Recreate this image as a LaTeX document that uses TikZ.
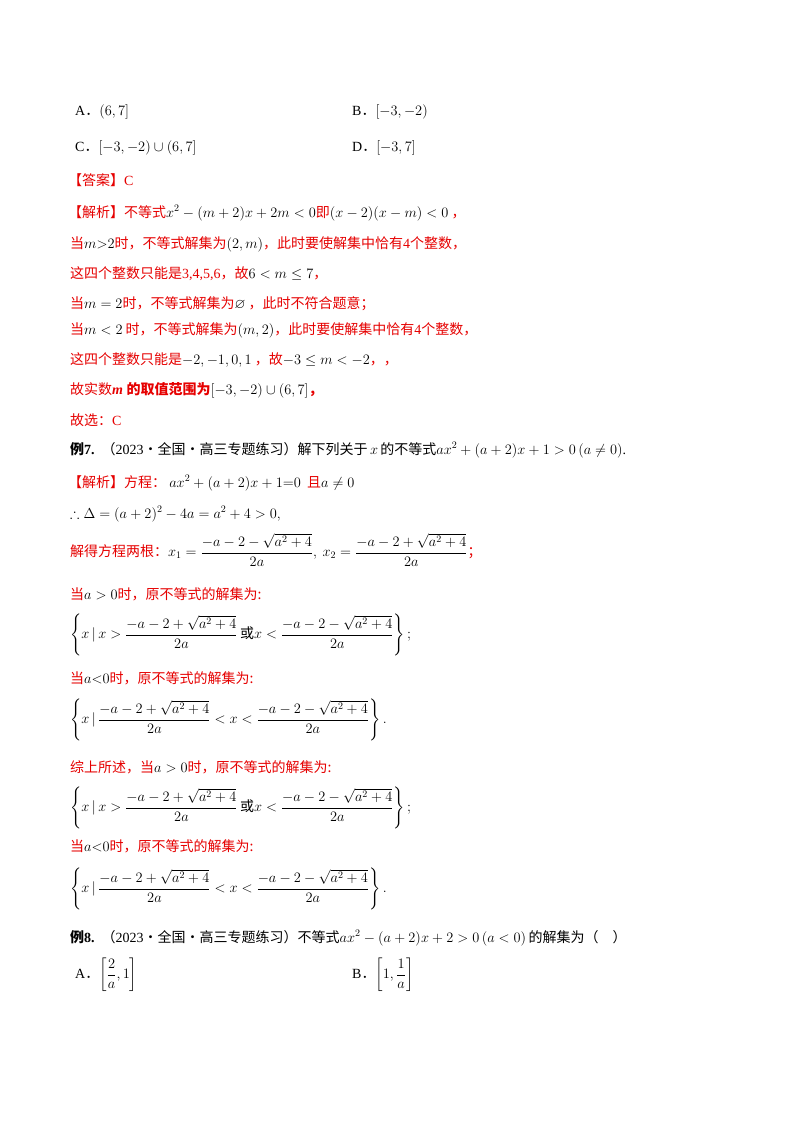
\documentclass[tikz,border=0pt]{standalone}
\usepackage{amsmath,amssymb}
\usepackage{fontspec}
\setmainfont{Liberation Serif}
\newfontfamily\cjk{Noto Sans CJK SC}
\definecolor{rd}{RGB}{230,0,0}
\begin{document}
\begin{tikzpicture}[x=1pt,y=-1pt,
  ln/.style={anchor=west,inner sep=0pt,font=\fontsize{14}{16}\selectfont},
  rl/.style={ln,text=rd}]
\useasboundingbox (0,0) rectangle (800,1132);
\fill[white] (0,0) rectangle (800,1132);
\node[ln] (a) at (75,112) {A{\cjk ．}$(6,7]$};
\node[ln] (b) at (352,112) {B{\cjk ．}$[-3,-2)$};
\node[ln] (c) at (75,148) {C{\cjk ．}$[-3,-2)\cup(6,7]$};
\node[ln] (d) at (352,148) {D{\cjk ．}$[-3,7]$};
\node[rl] (l1) at (68,180) {\cjk 【答案】\rmfamily C};
\node[rl] (l2) at (68,213) {\cjk 【解析】不等式\textcolor{black}{$x^2-(m+2)x+2m<0$}即\textcolor{black}{$(x-2)(x-m)<0$}\ ，};
\node[rl] (l3) at (70,244) {\cjk 当\textcolor{black}{$m{>}2$}时，不等式解集为\textcolor{black}{$(2,m)$}，此时要使解集中恰有\rmfamily 4\cjk 个整数，};
\node[rl] (l4) at (70,274) {\cjk 这四个整数只能是\rmfamily 3,4,5,6\cjk ，故\textcolor{black}{$6<m\le 7$}，};
\node[rl] (l5) at (70,304) {\cjk 当\textcolor{black}{$m=2$}时，不等式解集为\textcolor{black}{$\varnothing$}\ ，此时不符合题意；};
\node[rl] (l6) at (70,330) {\cjk 当\textcolor{black}{$m<2$}\ 时，不等式解集为\textcolor{black}{$(m,2)$}，此时要使解集中恰有\rmfamily 4\cjk 个整数，};
\node[rl] (l7) at (70,360) {\cjk 这四个整数只能是\textcolor{black}{$-2,-1,0,1$}\ ，故\textcolor{black}{$-3\le m<-2$}，，};
\node[rl] (l8) at (70,390) {\cjk 故实数\rmfamily\bfseries\itshape m\ \cjk 的取值范围为\textcolor{black}{$[-3,-2)\cup(6,7]$}，};
\node[rl] (l9) at (70,420) {\cjk 故选：\rmfamily C};
\node[ln] (l10) at (70,450) {{\cjk\bfseries 例}\textbf{7.}\ \ {\cjk （\rmfamily 2023\cjk ·全国·高三专题练习）解下列关于}\,$x$\,{\cjk 的不等式}$ax^2+(a+2)x+1>0\,(a\ne 0)$.};
\node[rl] (l11) at (68,483) {\cjk 【解析】方程：\ \textcolor{black}{$ax^2+(a+2)x+1{=}0$}\ \ 且\textcolor{black}{$a\ne0$}};
\node[ln] (l12) at (70,514) {$\therefore\Delta=(a+2)^2-4a=a^2+4>0,$};
\node[rl] (l13) at (70,550) {\cjk 解得方程两根：\textcolor{black}{$x_1=\dfrac{-a-2-\sqrt{a^2+4}}{2a},\ x_2=\dfrac{-a-2+\sqrt{a^2+4}}{2a}$}；};
\node[rl] (l14) at (70,594) {\cjk 当\textcolor{black}{$a>0$}时，原不等式的解集为:};
\node[ln] (l15) at (70,635) {$\left\{x\,|\,x>\dfrac{-a-2+\sqrt{a^2+4}}{2a}\,\text{\cjk 或}x<\dfrac{-a-2-\sqrt{a^2+4}}{2a}\right\};$};
\node[rl] (l16) at (70,678) {\cjk 当\textcolor{black}{$a{<}0$}时，原不等式的解集为:};
\node[ln] (l17) at (70,720) {$\left\{x\,|\,\dfrac{-a-2+\sqrt{a^2+4}}{2a}<x<\dfrac{-a-2-\sqrt{a^2+4}}{2a}\right\}.$};
\node[rl] (l18) at (70,767) {\cjk 综上所述，当\textcolor{black}{$a>0$}时，原不等式的解集为:};
\node[ln] (l19) at (70,808) {$\left\{x\,|\,x>\dfrac{-a-2+\sqrt{a^2+4}}{2a}\,\text{\cjk 或}x<\dfrac{-a-2-\sqrt{a^2+4}}{2a}\right\};$};
\node[rl] (l20) at (70,846) {\cjk 当\textcolor{black}{$a{<}0$}时，原不等式的解集为:};
\node[ln] (l21) at (70,889) {$\left\{x\,|\,\dfrac{-a-2+\sqrt{a^2+4}}{2a}<x<\dfrac{-a-2-\sqrt{a^2+4}}{2a}\right\}.$};
\node[ln] (l22) at (70,938) {{\cjk\bfseries 例}\textbf{8.}\ \ {\cjk （\rmfamily 2023\cjk ·全国·高三专题练习）不等式}$ax^2-(a+2)x+2>0\,(a<0)$\,{\cjk 的解集为（\quad ）}};
\node[ln] (e) at (75,975) {A{\cjk ．}$\left[\dfrac{2}{a},1\right]$};
\node[ln] (f) at (352,975) {B{\cjk ．}$\left[1,\dfrac{1}{a}\right]$};
\end{tikzpicture}
\end{document}
